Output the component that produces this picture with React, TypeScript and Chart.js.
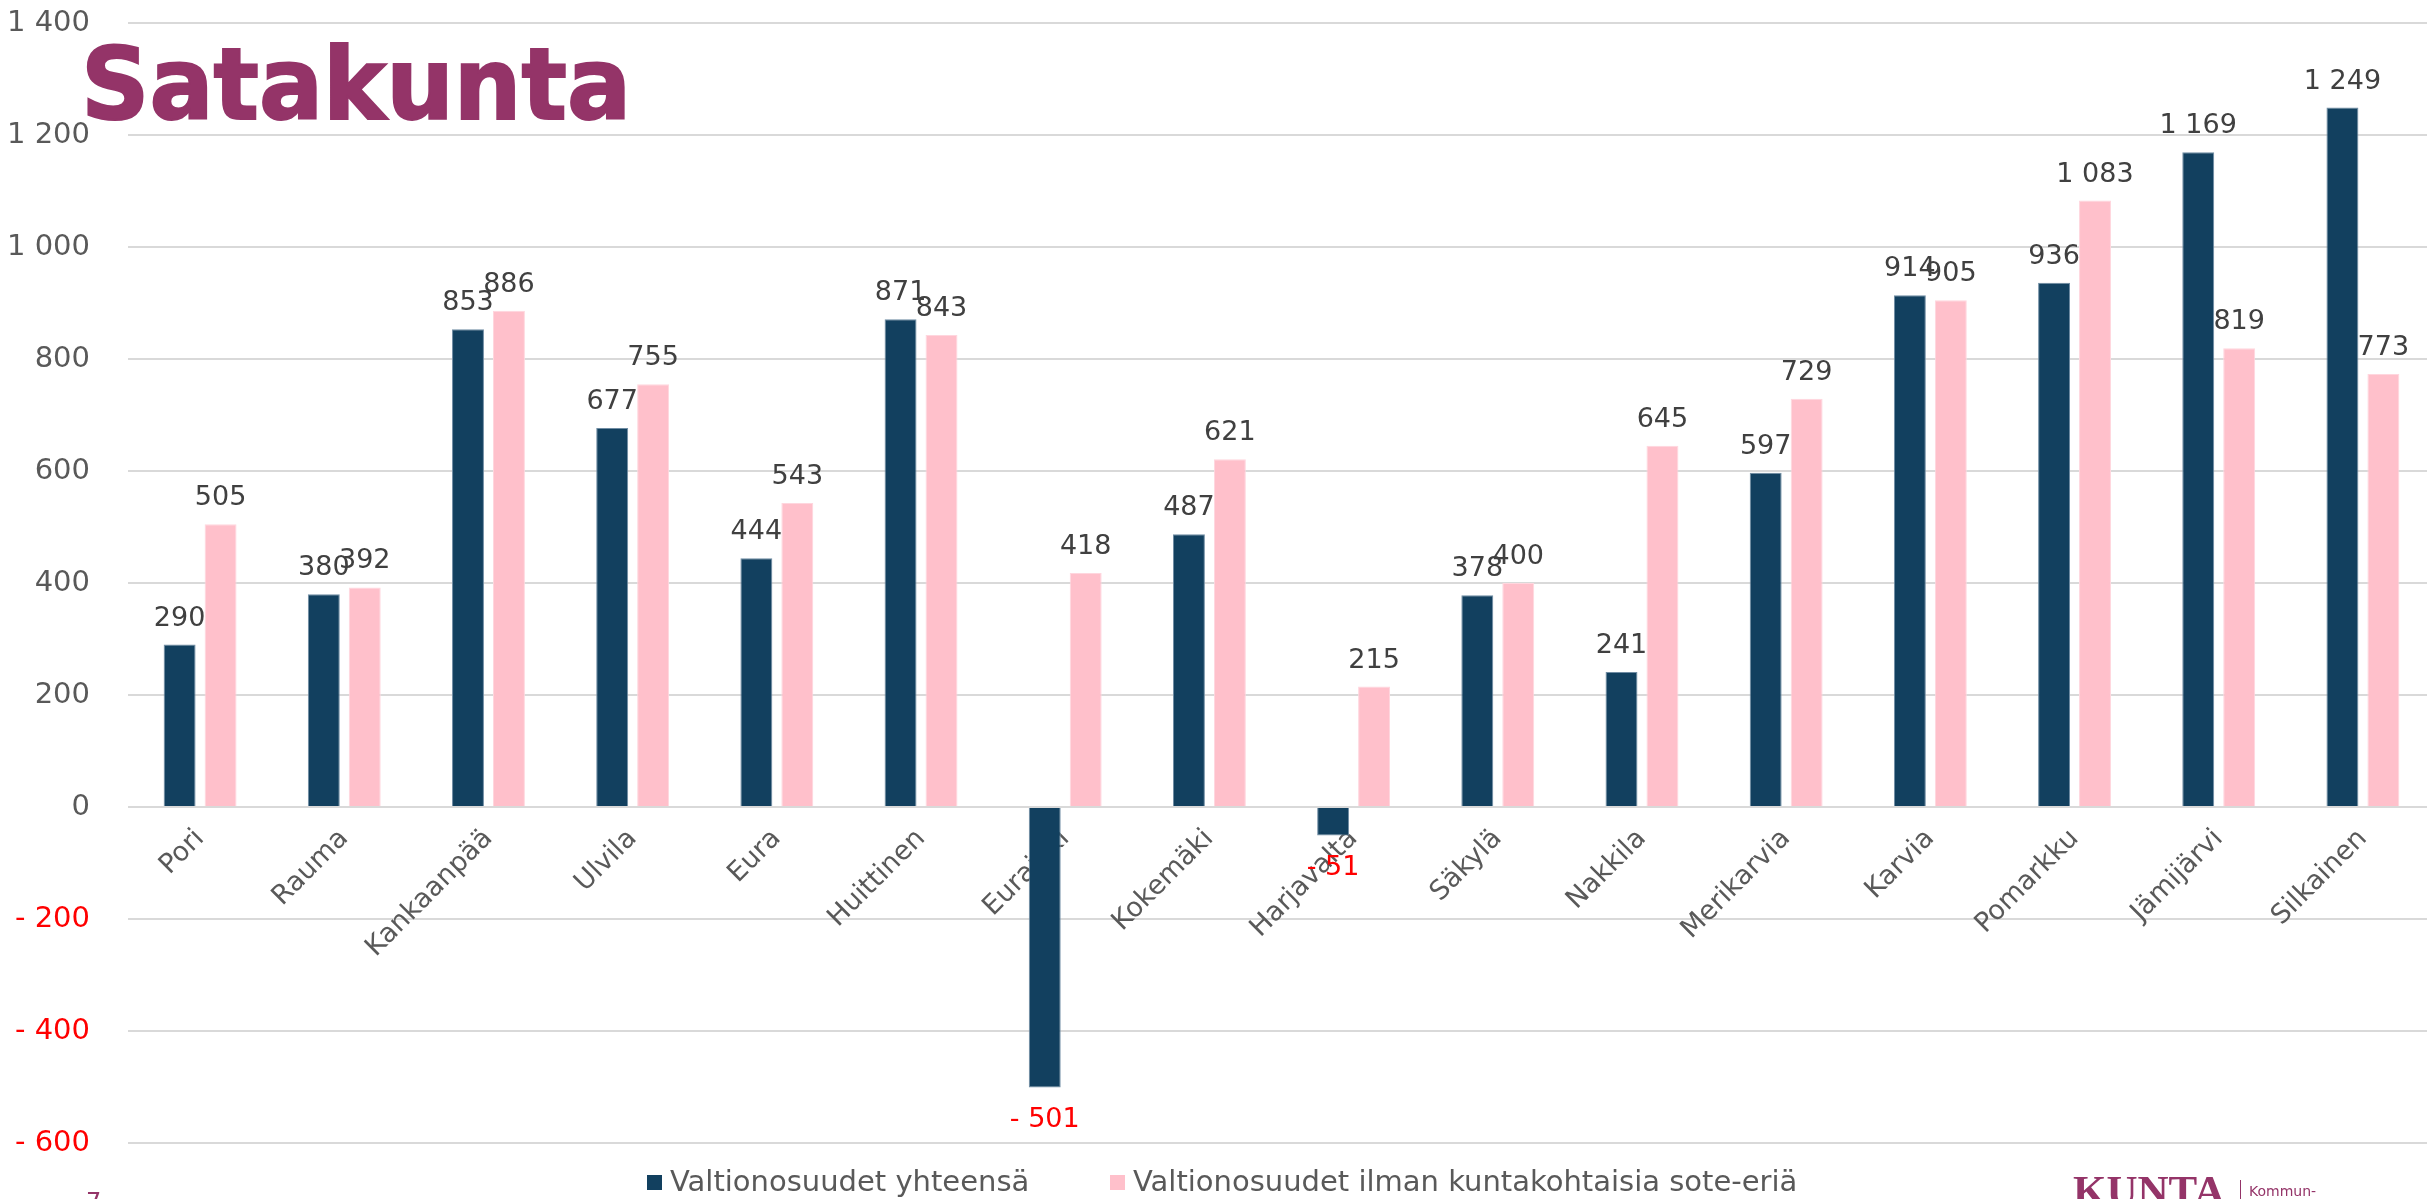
import React, { useEffect, useRef } from "react";
import { Chart, registerables } from "chart.js";

Chart.register(...registerables);

const categories = [
  "Pori", "Rauma", "Kankaanpää", "Ulvila", "Eura", "Huittinen", "Eurajoki", "Kokemäki",
  "Harjavalta", "Säkylä", "Nakkila", "Merikarvia", "Karvia", "Pomarkku", "Jämijärvi", "Silkainen",
];
const totalValues = [290, 380, 853, 677, 444, 871, -501, 487, -51, 378, 241, 597, 914, 936, 1169, 1249];
const withoutSoteValues = [505, 392, 886, 755, 543, 843, 418, 621, 215, 400, 645, 729, 905, 1083, 819, 773];
const seriesLabels = ["Valtionosuudet yhteensä", "Valtionosuudet ilman kuntakohtaisia sote-eriä"];
const yMin = -600;
const yMax = 1400;
const yStep = 200;

const DARK = "#12405F";
const PINK = "#FFC0CB";
const PURPLE = "#943468";
const FONT = "'DejaVu Sans', 'Noto Sans', sans-serif";

function fmt(v: number): string {
  const a = Math.abs(Math.round(v));
  const s = a.toString().replace(/\B(?=(\d{3})+(?!\d))/g, " ");
  return v < 0 ? "- " + s : s;
}

const valueLabels = {
  id: "valueLabels",
  afterDatasetsDraw(chart: any) {
    const ctx = chart.ctx;
    ctx.save();
    ctx.font = "27px " + FONT;
    ctx.textAlign = "center";
    ctx.textBaseline = "alphabetic";
    chart.data.datasets.forEach((ds: any, di: number) => {
      const meta = chart.getDatasetMeta(di);
      meta.data.forEach((el: any, i: number) => {
        const v = ds.data[i];
        if (v < 0) {
          ctx.fillStyle = "#FF0000";
          ctx.fillText(fmt(v), el.x, el.y + 39);
        } else {
          ctx.fillStyle = "#404040";
          ctx.fillText(fmt(v), el.x, el.y - 19);
        }
      });
    });
    ctx.restore();
  },
};

export default function App() {
  const ref = useRef<HTMLCanvasElement | null>(null);

  useEffect(() => {
    if (!ref.current) return;
    const chart = new Chart(ref.current, {
      type: "bar",
      data: {
        labels: categories,
        datasets: [
          {
            label: seriesLabels[0],
            data: totalValues,
            backgroundColor: DARK,
            borderColor: "#6F8CA3",
            borderWidth: 1,
            categoryPercentage: 0.568,
            barPercentage: 0.78,
          },
          {
            label: seriesLabels[1],
            data: withoutSoteValues,
            backgroundColor: PINK,
            borderColor: "#FFD6DE",
            borderWidth: 1,
            categoryPercentage: 0.568,
            barPercentage: 0.78,
          },
        ],
      },
      options: {
        responsive: false,
        maintainAspectRatio: false,
        animation: false,
        layout: { padding: { top: 23, bottom: 56, left: 0, right: 0 } },
        plugins: {
          legend: { display: false },
          tooltip: { enabled: false },
          title: { display: false },
        },
        scales: {
          x: {
            position: { y: 0 } as any,
            grid: { display: false },
            border: { display: false },
            ticks: {
              autoSkip: false,
              minRotation: 45,
              maxRotation: 45,
              padding: 8,
              color: "#595959",
              font: { family: FONT, size: 27 },
            },
          },
          y: {
            min: yMin,
            max: yMax,
            afterFit(scale: any) {
              scale.width = 128;
              scale.paddingTop = 0;
              scale.paddingBottom = 0;
            },
            grid: { color: "#D9D9D9", lineWidth: 2, drawTicks: false },
            border: { display: false },
            ticks: {
              stepSize: yStep,
              padding: 38,
              font: { family: FONT, size: 29 },
              color: (c: any) => (c.tick && c.tick.value < 0 ? "#FF0000" : "#595959"),
              callback: (v: any) => fmt(Number(v)),
            },
          },
        },
      },
      plugins: [valueLabels],
    });
    return () => chart.destroy();
  }, []);

  return (
    <div
      style={{
        position: "absolute",
        left: 0,
        top: 0,
        width: 2427,
        height: 1199,
        overflow: "hidden",
        background: "#ffffff",
      }}
    >
      <canvas ref={ref} width={2435} height={1199} style={{ position: "absolute", left: 0, top: 0, width: 2435, height: 1199 }} />
      <div
        style={{
          position: "absolute",
          left: 81,
          top: 35,
          font: "bold 100px " + FONT,
          lineHeight: "100px",
          color: PURPLE,
          whiteSpace: "nowrap",
          transform: "scaleX(0.95)",
          transformOrigin: "left center",
          WebkitTextStroke: "2px " + PURPLE,
        }}
      >
        Satakunta
      </div>
      <div style={{ position: "absolute", left: 647, top: 1175, width: 15, height: 15, background: DARK }} />
      <div
        style={{
          position: "absolute",
          left: 670,
          top: 1165,
          font: "29px " + FONT,
          lineHeight: "32px",
          color: "#595959",
          whiteSpace: "nowrap",
        }}
      >
        {seriesLabels[0]}
      </div>
      <div style={{ position: "absolute", left: 1110, top: 1175, width: 15, height: 15, background: PINK }} />
      <div
        style={{
          position: "absolute",
          left: 1133,
          top: 1165,
          font: "29px " + FONT,
          lineHeight: "32px",
          color: "#595959",
          whiteSpace: "nowrap",
        }}
      >
        {seriesLabels[1]}
      </div>
      <div
        style={{
          position: "absolute",
          left: 86,
          top: 1190,
          font: "24px " + FONT,
          lineHeight: "24px",
          color: PURPLE,
        }}
      >
        7
      </div>
      <div
        style={{
          position: "absolute",
          left: 2073,
          top: 1169,
          font: "bold 43px 'Liberation Serif', serif",
          lineHeight: "43px",
          color: PURPLE,
          whiteSpace: "nowrap",
        }}
      >
        KUNTA
      </div>
      <div style={{ position: "absolute", left: 2240, top: 1180, width: 1, height: 19, background: PURPLE }} />
      <div
        style={{
          position: "absolute",
          left: 2249,
          top: 1183,
          font: "14px " + FONT,
          lineHeight: "16px",
          color: PURPLE,
          whiteSpace: "nowrap",
        }}
      >
        Kommun-
      </div>
    </div>
  );
}
